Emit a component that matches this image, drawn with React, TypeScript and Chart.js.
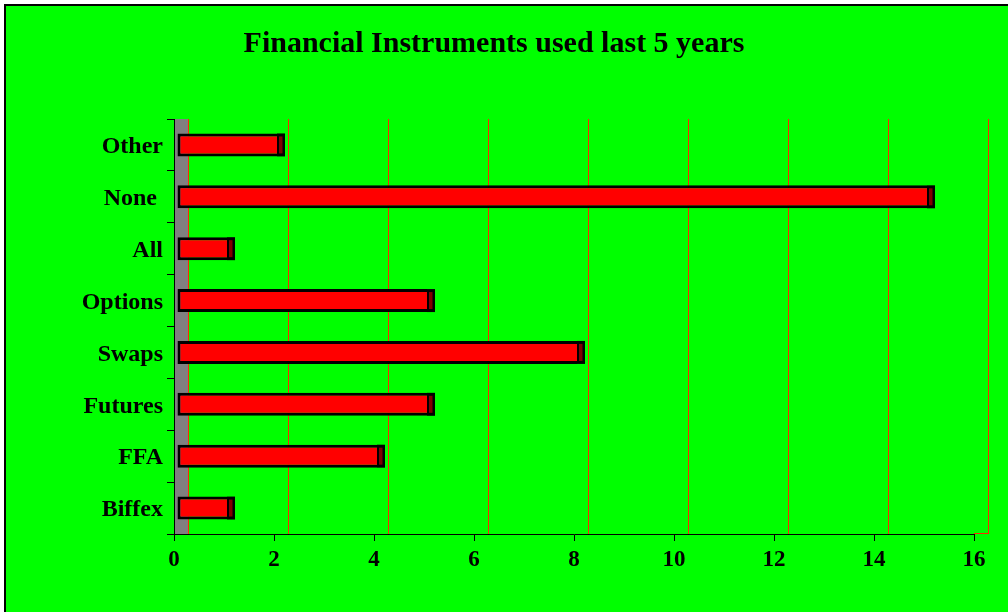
import React, { useEffect, useRef } from 'react';
import { Chart, registerables } from 'chart.js';

Chart.register(...registerables);

const TITLE = 'Financial Instruments used last 5 years';
const categories = ['Other', 'None ', 'All', 'Options', 'Swaps', 'Futures', 'FFA', 'Biffex'];
const values = [2, 15, 1, 5, 8, 5, 4, 1];
const X_MIN = 0;
const X_MAX = 16;
const X_STEP = 2;

const FONT = "'Liberation Serif', 'Times New Roman', serif";
const DEPTH = 14;
const GRID_COLOR = '#ff2a00';

const excel3d = {
  id: 'excel3d',
  beforeDraw(chart: any) {
    const { ctx, width, height } = chart;
    ctx.save();
    ctx.fillStyle = '#ffffff';
    ctx.fillRect(0, 0, width, height);
    ctx.fillStyle = '#00ff00';
    ctx.fillRect(4, 4, width - 4, height - 4);
    ctx.fillStyle = '#000000';
    ctx.fillRect(4, 4, width - 4, 2);
    ctx.fillRect(4, 4, 2, height - 4);
    ctx.restore();
  },
  beforeDatasetsDraw(chart: any) {
    const { ctx, chartArea } = chart;
    const xs = chart.scales.x;
    ctx.save();
    ctx.strokeStyle = GRID_COLOR;
    ctx.lineWidth = 1;
    xs.ticks.forEach((t: any) => {
      const px = Math.round(xs.getPixelForValue(t.value)) + DEPTH + 0.5;
      ctx.beginPath();
      ctx.moveTo(px, chartArea.top);
      ctx.lineTo(px, chartArea.bottom);
      ctx.stroke();
    });
    const endPx = Math.round(xs.getPixelForValue(X_MAX));
    ctx.beginPath();
    ctx.moveTo(endPx, chartArea.bottom - 0.5);
    ctx.lineTo(endPx + DEPTH + 1, chartArea.bottom - 0.5);
    ctx.stroke();
    // gray wall
    const left = Math.round(chartArea.left);
    ctx.fillStyle = '#808080';
    ctx.fillRect(left + 1, chartArea.top, DEPTH - 1, chartArea.bottom - chartArea.top);
    ctx.strokeStyle = '#000000';
    ctx.beginPath();
    ctx.moveTo(left + 0.5, chartArea.top);
    ctx.lineTo(left + 0.5, chartArea.bottom);
    ctx.stroke();
    ctx.restore();
    ctx.save();
    ctx.translate(3, 0);
  },
  afterDatasetsDraw(chart: any) {
    const { ctx } = chart;
    const meta = chart.getDatasetMeta(0);
    meta.data.forEach((bar: any) => {
      const { x, y, height } = bar.getProps(['x', 'y', 'height'], true);
      const top = y - height / 2;
      ctx.fillStyle = '#000000';
      ctx.fillRect(x, top, 8, height);
      ctx.fillStyle = '#800000';
      ctx.fillRect(x + 2, top + 3, 3.5, height - 6);
    });
    ctx.restore();
  },
};

export default function App() {
  const ref = useRef<HTMLCanvasElement>(null);
  useEffect(() => {
    if (!ref.current) return;
    const chart = new Chart(ref.current, {
      type: 'bar',
      data: {
        labels: categories,
        datasets: [
          {
            data: values,
            backgroundColor: '#ff0000',
            borderColor: '#000000',
            borderWidth: 3,
            borderSkipped: 'end',
            barThickness: 23,
            inflateAmount: 0,
          } as any,
        ],
      },
      options: {
        indexAxis: 'y',
        responsive: false,
        animation: false,
        devicePixelRatio: 1,
        layout: { padding: { left: 14, right: 34, top: 0, bottom: 0 } },
        plugins: {
          legend: { display: false },
          tooltip: { enabled: false },
          title: {
            display: true,
            text: TITLE,
            color: '#000000',
            font: { family: FONT, size: 30, weight: 'bold', lineHeight: 1.2 },
            padding: { top: 26, bottom: 57 },
          },
        },
        scales: {
          x: {
            type: 'linear',
            min: X_MIN,
            max: X_MAX,
            ticks: {
              stepSize: X_STEP,
              color: '#000000',
              padding: 5,
              font: { family: FONT, size: 23, weight: 'bold' },
            },
            grid: {
              display: true,
              drawOnChartArea: false,
              drawTicks: true,
              tickLength: 7,
              tickColor: '#000000',
              tickWidth: 1,
            },
            border: { display: true, color: '#000000', width: 1 },
            afterFit: (s: any) => {
              s.height = 78;
            },
          },
          y: {
            type: 'category',
            ticks: {
              color: '#000000',
              padding: 4,
              labelOffset: 2,
              font: { family: FONT, size: 24, weight: 'bold', lineHeight: 1.1 },
            },
            grid: {
              display: true,
              drawOnChartArea: false,
              drawTicks: true,
              tickLength: 7,
              tickColor: '#000000',
              tickWidth: 1,
            },
            border: { display: true, color: '#000000', width: 1 },
            afterFit: (s: any) => {
              s.width = 160;
            },
          },
        },
      } as any,
      plugins: [excel3d],
    });
    return () => chart.destroy();
  }, []);
  return (
    <div style={{ position: 'fixed', left: 0, top: 0, width: 1008, height: 612 }}>
      <canvas ref={ref} width={1008} height={612} style={{ display: 'block', width: 1008, height: 612 }} />
    </div>
  );
}
